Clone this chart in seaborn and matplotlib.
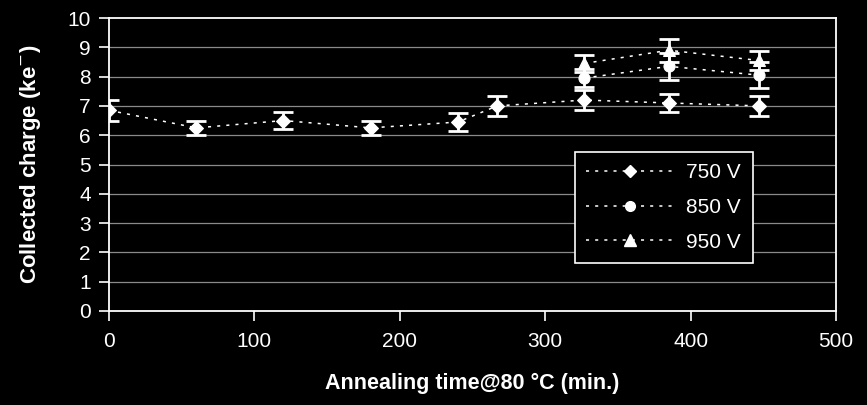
import matplotlib
matplotlib.use("Agg")
import matplotlib.pyplot as plt
import seaborn as sns
import pandas as pd
from matplotlib.lines import Line2D

# Data
times_750 = [0, 60, 120, 180, 240, 267, 327, 385, 447]
charge_750 = [6.85, 6.25, 6.5, 6.25, 6.45, 7.0, 7.2, 7.1, 7.0]
err_750 = [0.35, 0.25, 0.3, 0.25, 0.3, 0.35, 0.35, 0.3, 0.34]

times_hi = [327, 385, 447]
charge_850 = [7.95, 8.35, 8.05]
err_850 = [0.3, 0.45, 0.45]
charge_950 = [8.45, 8.9, 8.55]
err_950 = [0.3, 0.4, 0.34]

labels = ["750 V", "850 V", "950 V"]
markers = ["D", "o", "^"]
msizes = [7, 8, 9]

sns.set_style("dark")
plt.rcParams['font.family'] = ['Liberation Sans', 'DejaVu Sans']

fig = plt.figure(figsize=(8.67, 4.05), dpi=100, facecolor="black")
ax = fig.add_axes([109/867, 1-311/405, (836-109)/867, (311-18)/405])
ax.set_facecolor("black")

series = [
    (times_750, charge_750, err_750),
    (times_hi, charge_850, err_850),
    (times_hi, charge_950, err_950),
]

# gridlines
for yv in range(1, 10):
    ax.axhline(yv, color="#8a8a8a", lw=0.9, zorder=0)

handles = []
for (t, q, e), lab, mk, ms in zip(series, labels, markers, msizes):
    df = pd.DataFrame({"t": t, "q": q})
    sns.lineplot(data=df, x="t", y="q", ax=ax, color="white", lw=1.1,
                 marker=mk, markersize=ms, markeredgecolor="white",
                 markerfacecolor="white", zorder=3, legend=False)
    ax.lines[-1].set_dashes((2, 4))
    ax.errorbar(t, q, yerr=e, fmt="none", ecolor="white", elinewidth=2.0,
                capsize=7, capthick=2.0, zorder=4)
    handles.append(Line2D([0], [0], color="white", lw=1.1, dashes=(2, 4),
                          marker=mk, markersize=ms - 1, markerfacecolor="white",
                          markeredgecolor="white", label=lab))

ax.set_xlim(0, 500)
ax.set_ylim(0, 10)
ax.set_xticks(range(0, 501, 100))
ax.set_yticks(range(0, 11))
ax.grid(False)
for s in ax.spines.values():
    s.set_visible(True)
    s.set_color("white")
    s.set_linewidth(1.3)
ax.tick_params(axis="both", colors="white", labelcolor="white", labelsize=15,
               direction="out", length=7, width=1.2, bottom=True, left=True)
ax.tick_params(axis="x", pad=8)
ax.tick_params(axis="y", pad=6)

ax.set_xlabel("Annealing time@80 °C (min.)", color="white", fontsize=15.5,
              fontweight="bold", labelpad=16)
ax.set_ylabel("Collected charge (ke$^{-}$)", color="white", fontsize=16,
              fontweight="bold", labelpad=18)

leg = ax.legend(handles=handles, loc="upper left",
                bbox_to_anchor=(575/867, 1-152/405),
                bbox_transform=fig.transFigure, frameon=True,
                borderaxespad=0.0,
                fontsize=15, handlelength=4.2, handletextpad=0.6,
                labelspacing=0.75, borderpad=0.55, fancybox=False)
leg.get_frame().set_facecolor("black")
leg.get_frame().set_edgecolor("white")
leg.get_frame().set_linewidth(1.2)
leg.get_frame().set_alpha(1)
for txt in leg.get_texts():
    txt.set_color("white")

fig.savefig("out.png", dpi=100, facecolor="black")
